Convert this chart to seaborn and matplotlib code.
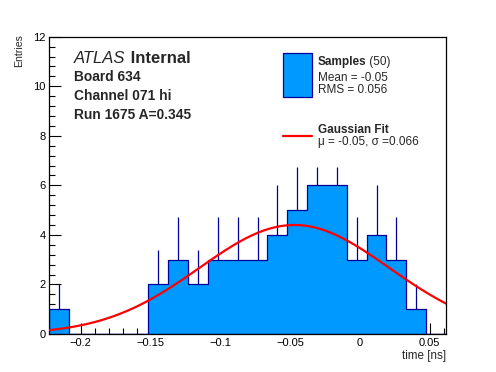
import numpy as np
import pandas as pd
import matplotlib
matplotlib.use("Agg")
import matplotlib.pyplot as plt
import seaborn as sns
from matplotlib.patches import Rectangle
from matplotlib.lines import Line2D
from matplotlib.ticker import MultipleLocator, FixedLocator

# ---------------- data ----------------
hist_lo = -0.2225
hist_hi = 0.0616
n_bins = 20
counts = [1, 0, 0, 0, 0, 2, 3, 2, 3, 3, 3, 4, 5, 6, 6, 3, 4, 3, 1, 0]
err_up = [1.0, 0, 0, 0, 0, 1.41, 1.73, 1.41, 1.73, 1.73, 1.73, 2.0, 1.76, 0.76, 0.76, 1.73, 2.0, 1.73, 1.0, 0]
fit_amp = 4.4
fit_mu = -0.047
fit_sigma = 0.068
fit_npx = 100
x_ticks = [-0.2, -0.15, -0.1, -0.05, 0.0, 0.05]
x_tick_labels = ["\u22120.2", "\u22120.15", "\u22120.1", "\u22120.05", "0", "0.05"]
y_ticks = [0, 2, 4, 6, 8, 10, 12]
y_tick_labels = ["0", "2", "4", "6", "8", "10", "12"]
header_lines = ["Board 634", "Channel 071 hi", "Run 1675 A=0.345"]
legend_samples = ("Samples", " (50)", "Mean = -0.05", "RMS = 0.056")
legend_fit = ("Gaussian Fit", "\u03bc = -0.05, \u03c3 =0.066")

fill_color = "#0099ff"
edge_color = "#000099"
fit_color = "#ff0000"

# ---------------- style ----------------
sns.set_style("ticks")
plt.rcParams["font.family"] = ["Liberation Sans", "DejaVu Sans"]

W, H = 496, 372
fig = plt.figure(figsize=(W / 100, H / 100), dpi=100)
ax = fig.add_axes([49.3 / W, 1 - 334 / H, (446 - 49.3) / W, (334 - 36.7) / H])

edges = np.linspace(hist_lo, hist_hi, n_bins + 1)
centers = 0.5 * (edges[:-1] + edges[1:])
df = pd.DataFrame({"time": centers, "n": counts, "err": err_up})

sns.histplot(data=df, x="time", weights="n", bins=[float(e) for e in edges], element="step", fill=True,
             color=fill_color, edgecolor=edge_color, linewidth=0.9, alpha=1.0, ax=ax, zorder=2)

nz = df[df["n"] > 0]
ax.vlines(nz["time"], nz["n"], nz["n"] + nz["err"], color=edge_color, linewidth=0.9, zorder=1.5)

xs = np.linspace(hist_lo, hist_hi, fit_npx)
fit_df = pd.DataFrame({"time": xs,
                       "y": fit_amp * np.exp(-0.5 * ((xs - fit_mu) / fit_sigma) ** 2)})
sns.lineplot(data=fit_df, x="time", y="y", color=fit_color, linewidth=1.6, ax=ax, zorder=4)

ax.set_xlim(hist_lo, hist_hi)
ax.set_ylim(0, 12)
ax.xaxis.set_major_locator(FixedLocator(x_ticks))
ax.set_xticklabels(x_tick_labels)
ax.xaxis.set_minor_locator(MultipleLocator(0.01))
ax.yaxis.set_major_locator(FixedLocator(y_ticks))
ax.set_yticklabels(y_tick_labels)
ax.yaxis.set_minor_locator(MultipleLocator(0.4))
ax.tick_params(which="both", direction="in", top=False, right=False, labelsize=8,
               color="black", labelcolor="black", width=0.8)
ax.tick_params(axis="y", which="major", length=8.8, pad=2.5)
ax.tick_params(axis="y", which="minor", length=4.4)
ax.tick_params(axis="x", which="major", length=8.0, pad=3)
ax.tick_params(axis="x", which="minor", length=4.0)
for s in ax.spines.values():
    s.set_visible(True)
    s.set_linewidth(0.9)
    s.set_color("black")
ax.set_xlabel("")
ax.set_ylabel("")

def fx(px):
    return px / W

def fy(py):
    return 1 - py / H

fig.text(fx(446), fy(350), "time [ns]", ha="right", va="top", fontsize=8.4)
fig.text(fx(19), fy(34.5), "Entries", rotation=90, ha="center", va="top", fontsize=7.6)

# header texts
t1 = fig.text(fx(74.3), fy(63.3), "ATLAS", style="italic", fontsize=12, ha="left", va="baseline")
ax.annotate(" Internal", xy=(1, 0), xycoords=t1, ha="left", va="bottom",
            fontsize=12, fontweight="bold", annotation_clip=False)
for line, by in zip(header_lines, [81, 100, 119]):
    fig.text(fx(74.3), fy(by), line, fontsize=9.9, fontweight="bold", ha="left", va="baseline")

# legend
fig.patches.append(Rectangle((fx(283.3), fy(96.7)), (311.7 - 283.3) / W, (96.7 - 53.3) / H,
                             transform=fig.transFigure, facecolor=fill_color,
                             edgecolor=edge_color, linewidth=0.9))
fig.lines.append(Line2D([fx(283), fx(311.5)], [fy(135.7), fy(135.7)], transform=fig.transFigure,
                        color=fit_color, linewidth=1.6))
ts = fig.text(fx(317.7), fy(65), legend_samples[0], fontsize=8.5, fontweight="bold",
              ha="left", va="baseline")
ax.annotate(legend_samples[1], xy=(1, 0), xycoords=ts, ha="left", va="bottom",
            fontsize=8.5, annotation_clip=False)
fig.text(fx(317.7), fy(81), legend_samples[2], fontsize=8.5, ha="left", va="baseline")
fig.text(fx(317.7), fy(93.3), legend_samples[3], fontsize=8.5, ha="left", va="baseline")
fig.text(fx(317.7), fy(132.7), legend_fit[0], fontsize=8.5, fontweight="bold", ha="left", va="baseline")
fig.text(fx(317.7), fy(144.5), legend_fit[1], fontsize=8.5, ha="left", va="baseline")

fig.savefig("out.png", dpi=100)
